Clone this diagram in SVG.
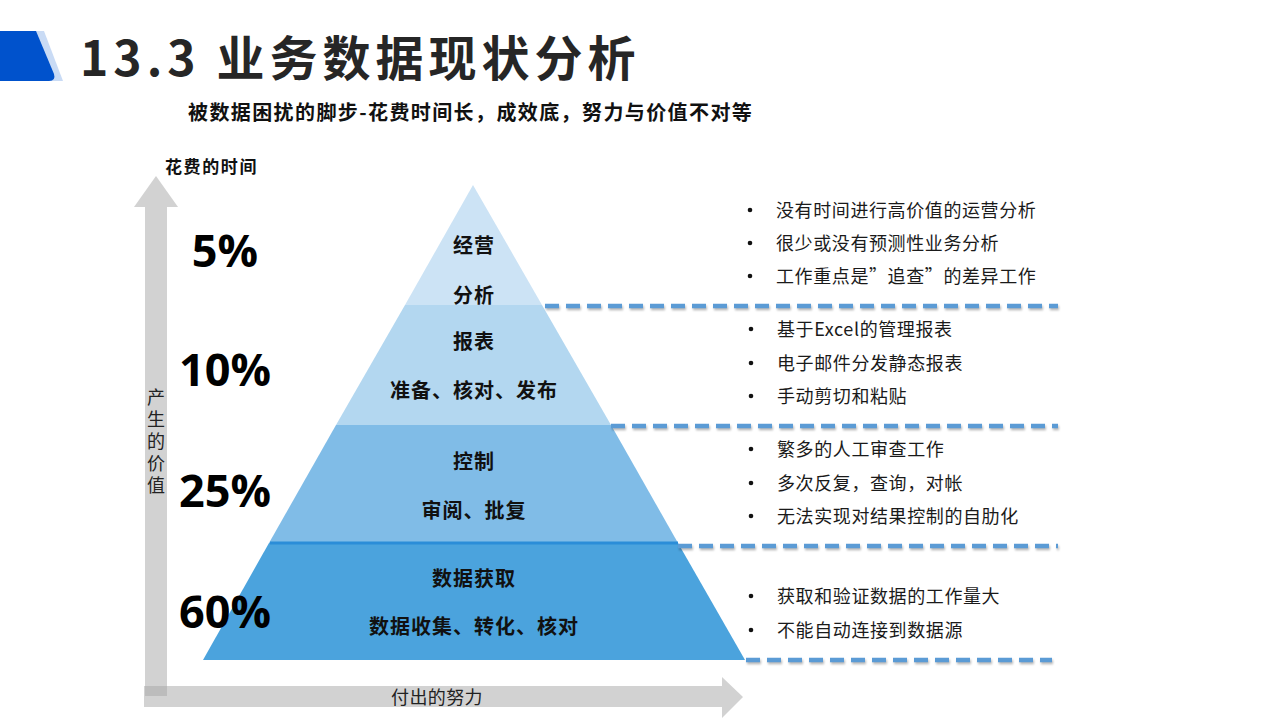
<svg xmlns="http://www.w3.org/2000/svg" width="1280" height="720" viewBox="0 0 1280 720">
<defs>
<style>
.cjk{font-family:"Noto Sans CJK SC","Microsoft YaHei",sans-serif}
.title{font-size:48px;font-weight:700;fill:#262626;letter-spacing:5px}
.sub{font-size:20px;font-weight:700;fill:#111;letter-spacing:1.4px}
.axis{font-size:17px;font-weight:700;fill:#111;letter-spacing:1.6px}
.axl{font-size:18px;fill:#222}
.pct{font-family:"Open Sans","Noto Sans",sans-serif;font-size:45px;font-weight:700;fill:#000;text-anchor:middle}
.lay{font-size:20px;font-weight:700;fill:#111;text-anchor:middle;letter-spacing:1px}
.bul{font-size:18px;fill:#1a1a1a;letter-spacing:0.6px}
.dash{stroke:#5B9BD5;stroke-width:4.5;stroke-dasharray:14 7;fill:none}
.dsh{stroke:#000;stroke-opacity:0.28;stroke-width:4.5;stroke-dasharray:14 7;fill:none;filter:url(#bl)}
.ax{fill:#A6A6A6;fill-opacity:0.5}
</style>
<filter id="bl" filterUnits="userSpaceOnUse" x="500" y="280" width="600" height="400">
<feGaussianBlur stdDeviation="1"/>
</filter>
</defs>
<rect width="1280" height="720" fill="#fff"/>

<g id="logo">
<path d="M0,31 H44 L63,81 H0 Z" fill="#C9DBF5"/>
<path d="M0,31 H36 L54,74 Q56,81 49,81 H0 Z" fill="#0052CC"/>
</g>
<g id="title"><text class="cjk title" x="80" y="76">13.3 业务数据现状分析</text></g>
<g id="subtitle"><text class="cjk sub" x="188" y="120">被数据困扰的脚步-花费时间长，成效底，努力与价值不对等</text></g>

<g id="axes">
<path class="ax" d="M145,696 V207 H134 L156,176 L178,207 H167 V696 Z"/>
<path class="ax" d="M144,686 H722 V677 L743,697 L722,718 V707 H144 Z"/>
<text class="cjk axis" x="165" y="173">花费的时间</text>
<text class="cjk axl" x="437" y="704" text-anchor="middle" style="letter-spacing:0.4px">付出的努力</text>
<text class="cjk axl" x="156" y="388" style="writing-mode:vertical-rl;letter-spacing:4px">产生的价值</text>
</g>

<g id="layer-1">
<path d="M473,185 L542,305 H405 Z" fill="#CCE3F5"/>
<text class="cjk lay" x="474" y="253">经营</text>
<text class="cjk lay" x="474" y="303">分析</text>
</g>
<g id="layer-2">
<path d="M405,305 H542 L611,425 H336 Z" fill="#B3D7F0"/>
<text class="cjk lay" x="474" y="349">报表</text>
<text class="cjk lay" x="474" y="398">准备、核对、发布</text>
</g>
<g id="layer-3">
<path d="M336,425 H611 L678,543 H269 Z" fill="#80BCE7"/>
<text class="cjk lay" x="474" y="469">控制</text>
<text class="cjk lay" x="474" y="518">审阅、批复</text>
</g>
<g id="layer-4">
<path d="M269,543 H678 L745,660 H203 Z" fill="#4BA3DD"/>
<line x1="270" y1="543" x2="678" y2="543" stroke="#2B8DD8" stroke-width="3"/>
<text class="cjk lay" x="474" y="586">数据获取</text>
<text class="cjk lay" x="474" y="634">数据收集、转化、核对</text>
</g>

<g id="percentages">
<text class="pct" x="225" y="267">5%</text>
<text class="pct" x="225" y="386">10%</text>
<text class="pct" x="225" y="507">25%</text>
<text class="pct" x="225" y="628">60%</text>
</g>

<g id="connectors">
<line class="dsh" x1="546" y1="308" x2="1059" y2="308"/>
<line class="dsh" x1="612" y1="428" x2="1059" y2="428"/>
<line class="dsh" x1="679" y1="548" x2="1059" y2="548"/>
<line class="dsh" x1="747" y1="662" x2="1053" y2="662"/>
<line class="dash" x1="545" y1="306" x2="1058" y2="306"/>
<line class="dash" x1="611" y1="426" x2="1058" y2="426"/>
<line class="dash" x1="678" y1="546" x2="1058" y2="546"/>
<line class="dash" x1="746" y1="660" x2="1052" y2="660"/>
</g>

<g id="notes-1" class="cjk bul">
<circle cx="750" cy="210" r="2.3" fill="#111"/><text x="776" y="217">没有时间进行高价值的运营分析</text>
<circle cx="750" cy="243" r="2.3" fill="#111"/><text x="776" y="250">很少或没有预测性业务分析</text>
<circle cx="750" cy="276" r="2.3" fill="#111"/><text x="776" y="283">工作重点是”追查”的差异工作</text>
</g>
<g id="notes-2" class="cjk bul">
<circle cx="751" cy="329" r="2.3" fill="#111"/><text x="777" y="336">基于Excel的管理报表</text>
<circle cx="751" cy="363" r="2.3" fill="#111"/><text x="777" y="370">电子邮件分发静态报表</text>
<circle cx="751" cy="396" r="2.3" fill="#111"/><text x="777" y="403">手动剪切和粘贴</text>
</g>
<g id="notes-3" class="cjk bul">
<circle cx="751" cy="449" r="2.3" fill="#111"/><text x="777" y="456">繁多的人工审查工作</text>
<circle cx="751" cy="483" r="2.3" fill="#111"/><text x="777" y="490">多次反复，查询，对帐</text>
<circle cx="751" cy="516" r="2.3" fill="#111"/><text x="777" y="523">无法实现对结果控制的自肋化</text>
</g>
<g id="notes-4" class="cjk bul">
<circle cx="751" cy="596" r="2.3" fill="#111"/><text x="777" y="603">获取和验证数据的工作量大</text>
<circle cx="751" cy="630" r="2.3" fill="#111"/><text x="777" y="637">不能自动连接到数据源</text>
</g>
</svg>
